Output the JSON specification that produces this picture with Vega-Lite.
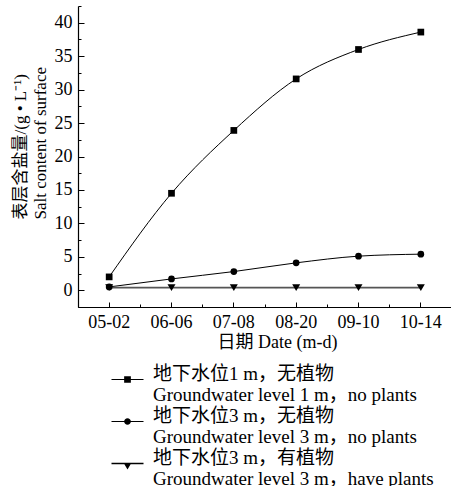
{
  "$schema": "https://vega.github.io/schema/vega-lite/v6.json",
  "width": 374,
  "height": 301,
  "autosize": {"type": "none"},
  "padding": {"left": 78, "top": 6, "right": 0, "bottom": 179},
  "background": "white",
  "config": {
    "font": "Liberation Serif, Noto Sans CJK SC",
    "view": {"stroke": null},
    "axis": {
      "domainColor": "black", "domainWidth": 1.2, "tickColor": "black", "tickWidth": 1,
      "labelColor": "black", "titleColor": "black", "grid": false,
      "labelFont": "Liberation Serif, Noto Sans CJK SC", "titleFont": "Liberation Serif, Noto Sans CJK SC",
      "labelFontSize": 18, "titleFontSize": 18, "titleFontWeight": "normal", "labelOverlap": false
    },
    "legend": {
      "labelFont": "Liberation Serif, Noto Sans CJK SC", "labelColor": "black",
      "symbolStrokeColor": "black", "symbolStrokeWidth": 1, "symbolFillColor": "black"
    }
  },
  "data": {
    "values": [
      {"date": "05-02", "series": "Groundwater level 1 m，no plants", "salt": 2.0},
      {"date": "06-06", "series": "Groundwater level 1 m，no plants", "salt": 14.5},
      {"date": "07-08", "series": "Groundwater level 1 m，no plants", "salt": 23.9},
      {"date": "08-20", "series": "Groundwater level 1 m，no plants", "salt": 31.6},
      {"date": "09-10", "series": "Groundwater level 1 m，no plants", "salt": 36.0},
      {"date": "10-14", "series": "Groundwater level 1 m，no plants", "salt": 38.6},
      {"date": "05-02", "series": "Groundwater level 3 m，no plants", "salt": 0.5},
      {"date": "06-06", "series": "Groundwater level 3 m，no plants", "salt": 1.7},
      {"date": "07-08", "series": "Groundwater level 3 m，no plants", "salt": 2.8},
      {"date": "08-20", "series": "Groundwater level 3 m，no plants", "salt": 4.1},
      {"date": "09-10", "series": "Groundwater level 3 m，no plants", "salt": 5.1},
      {"date": "10-14", "series": "Groundwater level 3 m，no plants", "salt": 5.4},
      {"date": "05-02", "series": "Groundwater level 3 m，have plants", "salt": 0.4},
      {"date": "06-06", "series": "Groundwater level 3 m，have plants", "salt": 0.4},
      {"date": "07-08", "series": "Groundwater level 3 m，have plants", "salt": 0.4},
      {"date": "08-20", "series": "Groundwater level 3 m，have plants", "salt": 0.4},
      {"date": "09-10", "series": "Groundwater level 3 m，have plants", "salt": 0.4},
      {"date": "10-14", "series": "Groundwater level 3 m，have plants", "salt": 0.4}
    ]
  },
  "layer": [
    {
      "mark": {"type": "line", "interpolate": "monotone"},
      "encoding": {
        "x": {
          "field": "date", "type": "ordinal",
          "scale": {"type": "band", "paddingInner": 0, "paddingOuter": 0},
          "axis": {
            "orient": "bottom",
            "title": "日期 Date (m-d)", "labelAngle": 0, "tickSize": -5, "labelPadding": 11,
            "titleX": 199, "titleY": 40, "titleBaseline": "alphabetic", "titleAlign": "center"
          }
        },
        "y": {
          "field": "salt", "type": "quantitative",
          "scale": {"domain": [-2.5, 42.5], "nice": false, "zero": false},
          "axis": {
            "orient": "left",
            "values": [0, 5, 10, 15, 20, 25, 30, 35, 40],
            "tickSize": -6, "labelPadding": 12,
            "title": ["表层含盐量/(g • L⁻¹)", "Salt content of surface"],
            "titleFontSize": 17, "titleLineHeight": 20, "titleAngle": -90,
            "titleAlign": "left", "titleBaseline": "alphabetic", "titleX": -53, "titleY": 213
          }
        },
        "detail": {"field": "series", "type": "nominal"},
        "stroke": {
          "condition": {"test": "datum.series == 'Groundwater level 3 m，have plants'", "value": "#555555"},
          "value": "black"
        },
        "strokeWidth": {
          "condition": {"test": "datum.series == 'Groundwater level 3 m，have plants'", "value": 1.6},
          "value": 1
        }
      }
    },
    {
      "mark": {"type": "point", "filled": true, "opacity": 1, "color": "black"},
      "encoding": {
        "x": {
          "field": "date", "type": "ordinal",
          "axis": {"orient": "bottom", "bandPosition": 0, "tickSize": -3, "labels": false, "domain": false, "title": null}
        },
        "y": {
          "field": "salt", "type": "quantitative",
          "axis": {
            "orient": "left",
            "values": [-2.5, 2.5, 7.5, 12.5, 17.5, 22.5, 27.5, 32.5, 37.5, 42.5],
            "tickSize": -3, "labels": false, "domain": false, "title": null
          }
        },
        "size": {
          "condition": {"test": "datum.series == 'Groundwater level 3 m，have plants'", "value": 64},
          "value": 45
        },
        "shape": {
          "field": "series", "type": "nominal",
          "scale": {
            "domain": ["Groundwater level 1 m，no plants", "Groundwater level 3 m，no plants", "Groundwater level 3 m，have plants"],
            "range": ["square", "circle", "triangle-down"]
          },
          "legend": null
        }
      }
    },
    {
      "transform": [{"filter": "datum.salt > 1000"}],
      "mark": {"type": "point", "filled": true, "opacity": 1, "fill": "black", "stroke": "black", "strokeWidth": 1},
      "encoding": {
        "x": {"field": "date", "type": "ordinal", "axis": null},
        "y": {"field": "salt", "type": "quantitative", "axis": null},
        "shape": {
          "field": "series", "type": "nominal",
          "scale": {
            "domain": ["Groundwater level 1 m，no plants", "Groundwater level 3 m，no plants", "Groundwater level 3 m，have plants"],
            "range": [
              "M-1,-0.035H1V0.035H-1ZM-0.21,-0.21H0.21V0.21H-0.21Z",
              "M-1,-0.035H1V0.035H-1ZM0.21,0L0.194,0.08L0.148,0.148L0.08,0.194L0,0.21L-0.08,0.194L-0.148,0.148L-0.194,0.08L-0.21,0L-0.194,-0.08L-0.148,-0.148L-0.08,-0.194L0,-0.21L0.08,-0.194L0.148,-0.148L0.194,-0.08Z",
              "M-1,-0.04H1V0.04H-1ZM-0.25,-0.05H0.25L0,0.38Z"
            ]
          },
          "legend": {
            "orient": "none", "legendX": 33, "legendY": 357, "title": null,
            "padding": 0, "symbolSize": 1024, "labelFontSize": 19, "labelLimit": 500,
            "labelOffset": 9, "labelBaseline": "alphabetic", "labelLineHeight": 20, "rowPadding": -3,
            "symbolStrokeColor": "black", "symbolStrokeWidth": 1, "symbolFillColor": "black", "symbolOpacity": 1,
            "labelExpr": "[datum.label == 'Groundwater level 1 m，no plants' ? '地下水位1 m，无植物' : datum.label == 'Groundwater level 3 m，no plants' ? '地下水位3 m，无植物' : '地下水位3 m，有植物', datum.label]"
          }
        }
      }
    }
  ],
  "resolve": {"axis": {"x": "independent", "y": "independent"}, "scale": {"shape": "independent"}}
}
